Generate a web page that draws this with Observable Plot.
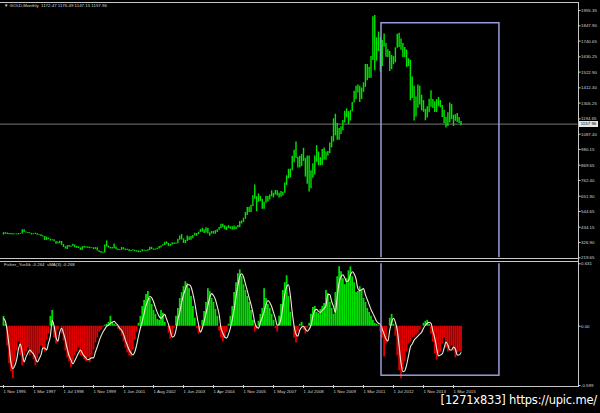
<!DOCTYPE html>
<html><head><meta charset="utf-8">
<script src="https://cdn.jsdelivr.net/npm/d3@7"></script>
<script src="https://cdn.jsdelivr.net/npm/@observablehq/plot@0.6"></script>
<style>
html,body{margin:0;padding:0;background:#000;}
#wrap{position:relative;width:600px;height:413px;background:#000;overflow:hidden;font-family:"Liberation Sans",Arial,sans-serif;}
#wrap svg{position:absolute;left:0;top:0;}
.b{position:absolute;background:#c8c8c8;}
.t{position:absolute;color:#d8d8d8;font-size:4.4px;white-space:pre;line-height:1;}
#wm{position:absolute;right:3px;top:393px;color:#fff;font-family:"DejaVu Sans",sans-serif;font-size:11.5px;letter-spacing:-0.2px;}
#pl{position:absolute;left:579px;width:19px;height:6px;background:#e6e6e6;color:#000;font-size:4.4px;line-height:6px;text-align:center;}
</style></head><body><div id="wrap">
<div class="b" style="left:0;top:2px;width:579px;height:1px"></div>
<div class="b" style="left:578px;top:2px;width:1px;height:385px"></div>
<div class="b" style="left:0;top:258px;width:579px;height:1px"></div>
<div class="b" style="left:0;top:261px;width:579px;height:1px"></div>
<div class="b" style="left:0;top:386px;width:579px;height:1px"></div>
<div class="t" style="left:4px;top:4px">▼ GOLD,Monthly  1172.47 1176.49 1147.15 1157.96</div>
<div class="t" style="left:4px;top:263px">Fisher_Yur4ik -0.264  sMA(3) -0.268</div>
<div id="wm">[1271x833] https://upic.me/</div>
</div>
<script>
// monthly bar lows / highs (bar index 0 = first bar on chart)
const lows=[379,385,383,382,381,380,381,381,381,385,
387,398,393,390,389,380,381,383,378,378,369,366,
341,342,347,337,339,332,314,319,320,307,292,281,
278,294,293,299,290,286,285,272,273,287,289,285,
283,285,278,279,267,257,252,252,253,295,288,282,
282,283,276,271,270,272,276,271,271,263,263,268,
262,259,255,256,262,265,264,265,271,278,272,273,
277,282,289,300,306,315,300,300,310,313,315,318,
343,345,320,320,334,341,342,353,372,370,382,398,
399,391,393,387,371,386,386,385,398,413,423,431,
418,411,425,420,414,414,418,428,432,457,468,490,
516,538,538,580,630,543,609,615,560,560,603,612,
626,647,640,660,653,640,644,653,672,728,775,780,
830,886,916,850,850,860,896,786,735,681,705,778,
800,890,865,865,868,905,904,932,951,991,1032,1075,
1044,1045,1085,1112,1165,1203,1155,1180,1244,1307,1330,1376,
1309,1331,1381,1416,1462,1478,1480,1604,1532,1600,1667,1523,
1563,1699,1627,1626,1527,1540,1575,1589,1690,1695,1676,1625,
1625,1555,1562,1321,1338,1180,1207,1270,1292,1251,1241,1181,
1200,1238,1277,1268,1240,1240,1280,1273,1205,1160,1131,1142,
1168,1190,1142,1178,1170,1162,1147];
const highs=[396,396,393,391,390,388,387,387,390,390,
417,416,401,398,395,391,387,392,388,384,382,374,
370,364,358,350,347,346,334,331,336,334,313,297,
305,306,303,315,310,299,297,289,297,300,297,296,
293,290,290,291,290,270,263,259,310,338,302,293,
292,316,295,281,276,292,290,281,280,276,271,276,
273,269,268,265,277,275,271,277,294,293,281,281,
287,299,303,312,329,331,320,315,326,324,324,350,
372,383,352,341,373,365,369,376,392,390,400,417,
427,417,431,427,395,404,405,410,416,433,455,456,
444,437,446,437,437,443,436,447,475,478,497,538,
573,574,588,655,730,648,668,650,630,610,652,650,
660,690,673,692,690,672,685,680,744,795,841,842,
933,975,1033,926,933,945,988,918,934,935,830,880,
934,1007,962,923,980,990,960,965,1025,1070,1195,1227,
1162,1128,1140,1183,1249,1265,1246,1253,1310,1388,1424,1432,
1423,1411,1448,1576,1577,1557,1632,1912,1921,1764,1804,1764,
1744,1791,1723,1679,1667,1640,1632,1693,1788,1796,1755,1723,
1696,1678,1617,1605,1488,1424,1348,1433,1424,1361,1323,1262,
1279,1333,1392,1331,1315,1330,1345,1324,1289,1255,1205,1238,
1307,1295,1220,1224,1232,1205,1176];
// Fisher histogram values per bar
const fisher=[0.1,0.02,-0.2,-0.38,-0.46,-0.53,-0.36,-0.25,-0.16,-0.3,
-0.4,-0.3,-0.26,-0.22,-0.3,-0.27,-0.34,-0.4,-0.33,-0.28,
-0.2,-0.24,-0.26,-0.14,-0.08,0.1,0.16,-0.12,-0.18,-0.04,
0.0,-0.08,-0.15,-0.25,-0.32,-0.36,-0.42,-0.36,-0.3,-0.26,
-0.22,-0.3,-0.31,-0.34,-0.36,-0.32,-0.37,-0.3,-0.24,-0.17,
-0.12,-0.06,-0.04,-0.01,0.01,0.02,0.04,0.1,0.04,0.02,
0.01,-0.03,-0.05,-0.1,-0.16,-0.22,-0.27,-0.3,-0.31,-0.24,
-0.14,-0.06,0.03,0.1,0.2,0.26,0.32,0.35,0.28,0.22,
0.16,0.12,0.07,0.06,0.16,0.13,0.04,0.0,-0.07,-0.13,
-0.09,-0.02,0.1,0.18,0.28,0.34,0.4,0.45,0.43,0.38,
0.3,0.2,0.08,-0.02,-0.08,-0.02,0.06,0.15,0.24,0.38,
0.35,0.28,0.24,0.17,0.1,-0.05,-0.12,-0.16,-0.12,-0.06,
0.02,0.1,0.2,0.34,0.44,0.53,0.57,0.5,0.42,0.36,
0.3,0.24,0.16,0.06,-0.06,-0.03,0.05,0.12,0.18,0.38,
0.28,0.22,0.18,0.12,0.06,-0.02,-0.06,0.1,0.22,0.36,
0.44,0.51,0.3,0.14,0.0,-0.12,-0.17,-0.05,0.02,0.04,
-0.04,-0.08,-0.02,0.03,0.12,0.19,0.2,0.14,0.13,0.17,
0.2,0.23,0.36,0.33,0.24,0.18,0.12,0.34,0.5,0.6,
0.55,0.48,0.42,0.48,0.56,0.6,0.5,0.44,0.34,0.35,
0.4,0.36,0.28,0.24,0.18,0.14,0.1,0.06,0.03,0.02,
0.01,-0.06,-0.12,-0.31,-0.18,0.0,0.08,0.12,0.02,-0.1,
-0.3,-0.45,-0.53,-0.44,-0.36,-0.26,-0.18,-0.16,-0.12,-0.11,
-0.09,-0.07,-0.04,0.0,0.03,0.05,0.06,0.02,-0.08,-0.16,
-0.28,-0.34,-0.28,-0.26,-0.18,-0.12,-0.22,-0.26,-0.22,-0.2,
-0.25,-0.32,-0.27,-0.26,-0.264];
// signal line (sMA) per bar
const signal=[0.08,0.05,-0.05,-0.2,-0.37,-0.43,-0.40,-0.34,-0.23,-0.18,
-0.27,-0.36,-0.31,-0.27,-0.24,-0.26,-0.28,-0.32,-0.36,-0.33,
-0.29,-0.22,-0.22,-0.24,-0.17,-0.1,0.06,0.0,-0.11,-0.15,
-0.06,-0.02,-0.07,-0.14,-0.23,-0.3,-0.34,-0.38,-0.35,-0.31,
-0.27,-0.24,-0.27,-0.3,-0.32,-0.34,-0.33,-0.32,-0.32,-0.26,
-0.21,-0.15,-0.1,-0.06,-0.03,0.0,0.01,0.03,0.04,0.05,
0.03,0.01,-0.02,-0.04,-0.08,-0.14,-0.19,-0.24,-0.27,-0.29,
-0.26,-0.19,-0.1,-0.02,0.05,0.13,0.21,0.26,0.3,0.29,
0.25,0.19,0.14,0.1,0.08,0.1,0.12,0.07,0.02,-0.05,
-0.11,-0.1,-0.04,0.07,0.14,0.24,0.32,0.37,0.42,0.42,
0.4,0.33,0.24,0.12,0.02,-0.06,-0.02,0.05,0.13,0.21,
0.29,0.33,0.31,0.27,0.2,0.12,-0.02,-0.07,-0.11,-0.12,
-0.08,-0.02,0.07,0.17,0.3,0.41,0.5,0.53,0.5,0.43,
0.36,0.29,0.22,0.14,0.04,-0.01,-0.02,0.04,0.09,0.15,
0.22,0.26,0.24,0.2,0.14,0.08,0.01,0.02,0.08,0.2,
0.32,0.4,0.42,0.31,0.14,0.0,-0.08,-0.1,-0.04,-0.01,
0.0,-0.03,-0.05,-0.03,0.01,0.1,0.16,0.17,0.15,0.14,
0.16,0.18,0.21,0.32,0.32,0.25,0.2,0.14,0.3,0.44,
0.5,0.52,0.49,0.45,0.46,0.52,0.55,0.53,0.48,0.38,
0.36,0.37,0.38,0.32,0.27,0.22,0.17,0.13,0.09,0.05,
0.03,0.02,-0.03,-0.08,-0.13,-0.15,-0.04,0.04,0.08,0.04,
-0.04,-0.2,-0.37,-0.46,-0.45,-0.39,-0.3,-0.21,-0.18,-0.14,
-0.12,-0.1,-0.08,-0.06,-0.02,0.01,0.03,0.04,0.03,-0.05,
-0.12,-0.22,-0.3,-0.29,-0.28,-0.22,-0.16,-0.19,-0.24,-0.24,
-0.21,-0.23,-0.29,-0.29,-0.268];
const dateLabels=["1 Nov 1995","1 Mar 1997","1 Jul 1998","1 Nov 1999","1 Jun 2001","1 Aug 2002","1 Jun 2003","1 Apr 2004","1 Nov 2005","1 May 2007","1 Jul 2008","1 Nov 2009","1 Mar 2011","1 Jul 2012","1 Nov 2013","1 Mar 2015"];
const labelEvery=16;
const priceTicks=[1955.35,1847.90,1740.65,1630.25,1522.90,1412.40,1305.25,1194.65,1087.40,980.15,869.65,762.40,651.90,544.65,434.15,326.90,219.65];
const priceDomain=[219.65,1955.35];
const fisherTicks=[0.631,0,-0.599];
const fisherTickLabels=["0.631","0.00","-0.599"];
const fisherDomain=[-0.599,0.631];
const lastPrice=1157.96;
// highlight rectangle (bar index range, value ranges)
const boxBars=[201.6,264.5];
const boxPrice=[100,1866];
const boxFisher=[-0.5,0.9];

const xDomain=[-1.6,306.4];
const bars=lows.map((lo,i)=>({i,lo,hi:highs[i]}));
const hist=fisher.map((v,i)=>({i,v}));
const sig=signal.map((v,i)=>({i,v}));
const common={width:600,height:413,marginLeft:0,marginRight:22.5,
  style:{background:"transparent",color:"#d4d4d4",fontFamily:"Liberation Sans, Arial, sans-serif",overflow:"visible"}};
const wrap=document.getElementById("wrap");

const topPlot=Plot.plot({...common,marginTop:10,marginBottom:155.7,
  x:{domain:xDomain,axis:null,label:null},y:{domain:priceDomain,axis:null,label:null},
  marks:[
    Plot.ruleY([lastPrice],{stroke:"#7a7a7a",strokeWidth:1}),
    Plot.ruleX(bars,{x:"i",y1:"lo",y2:"hi",stroke:"#00e400",strokeWidth:1.4}),
    Plot.rect([0],{x1:()=>boxBars[0],x2:()=>boxBars[1],y1:()=>boxPrice[0],y2:()=>boxPrice[1],fill:"none",stroke:"#9c9cd8",strokeWidth:1.5,clip:true}),
    Plot.axisY({anchor:"right",label:null,ticks:priceTicks,tickFormat:d=>d.toFixed(2),tickSize:2,tickPadding:1,fontSize:4.4})
  ]});
wrap.appendChild(topPlot);

const lowPlot=Plot.plot({...common,marginTop:263.3,marginBottom:28,
  x:{domain:xDomain,axis:null,label:null},y:{domain:fisherDomain,axis:null,label:null},
  marks:[
    Plot.ruleX(hist,{x:"i",y1:0,y2:"v",stroke:d=>d.v>=0?"#00e000":"#e00000",strokeWidth:1.75}),
    Plot.line(sig,{x:"i",y:"v",stroke:"#f2ead6",strokeWidth:1.1,curve:"monotone-x"}),
    Plot.rect([0],{x1:()=>boxBars[0],x2:()=>boxBars[1],y1:()=>boxFisher[0],y2:()=>boxFisher[1],fill:"none",stroke:"#9c9cd8",strokeWidth:1.5,clip:true}),
    Plot.axisY({anchor:"right",label:null,ticks:fisherTicks,tickFormat:d=>fisherTickLabels[fisherTicks.indexOf(d)],tickSize:2,tickPadding:1,fontSize:4.4}),
    Plot.axisX({anchor:"bottom",label:null,ticks:dateLabels.map((_,k)=>k*labelEvery),tickFormat:d=>dateLabels[Math.round(d/labelEvery)],textAnchor:"start",tickSize:3,tickPadding:1,fontSize:4.4})
  ]});
wrap.appendChild(lowPlot);

const ly=topPlot.scale("y").apply(lastPrice);
const pl=document.createElement("div");
pl.id="pl";pl.textContent=lastPrice.toFixed(2);pl.style.top=(ly-3)+"px";
wrap.appendChild(pl);
</script></body></html>
